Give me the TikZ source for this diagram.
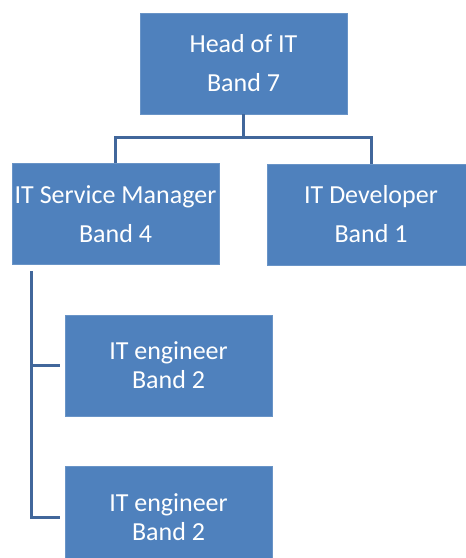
\documentclass[tikz,border=0pt]{standalone}
\usepackage{fontspec}
\setmainfont{Carlito}
\usepackage{xcolor}
\definecolor{boxblue}{HTML}{4F81BD}
\definecolor{linkblue}{HTML}{41679B}

\begin{document}
\begin{tikzpicture}[x=1pt,y=-1pt,
		post/.style={fill=boxblue,draw=boxblue!85!white,line width=0.6pt,text=white,inner sep=0pt,
			minimum width=207pt,minimum height=101pt,align=center,font=\fontsize{26}{39}\selectfont},
		engpost/.style={post,font=\fontsize{26}{29}\selectfont},
		link/.style={draw=linkblue,line width=3pt}]
		\useasboundingbox(0,0) rectangle (466,558);
		\node[post] (head) at (243.5,63.5) {Head of IT\\Band 7};
		\node[post] (sm) at (115.5,214) {IT Service Manager\\Band 4};
		\node[post] (dev) at (371,214.5) {IT Developer\\Band 1};
		\node[engpost] (eng1) at (168.5,365.5) {IT engineer\\Band 2};
		\node[engpost] (eng2) at (168.5,517) {IT engineer\\Band 2};
		\coordinate (hub) at (243.5,137);
		\coordinate (spine) at (31,271);
		\draw[link](head.south)--(hub);
		\draw[link](sm.north)|-(hub)-|(dev.north);
		\draw[link](spine)|-([xshift=-5pt]eng2.west);
		\draw[link]([xshift=-5pt]eng1.west)--(spine |- eng1.west);
		\end{tikzpicture}
\end{document}
